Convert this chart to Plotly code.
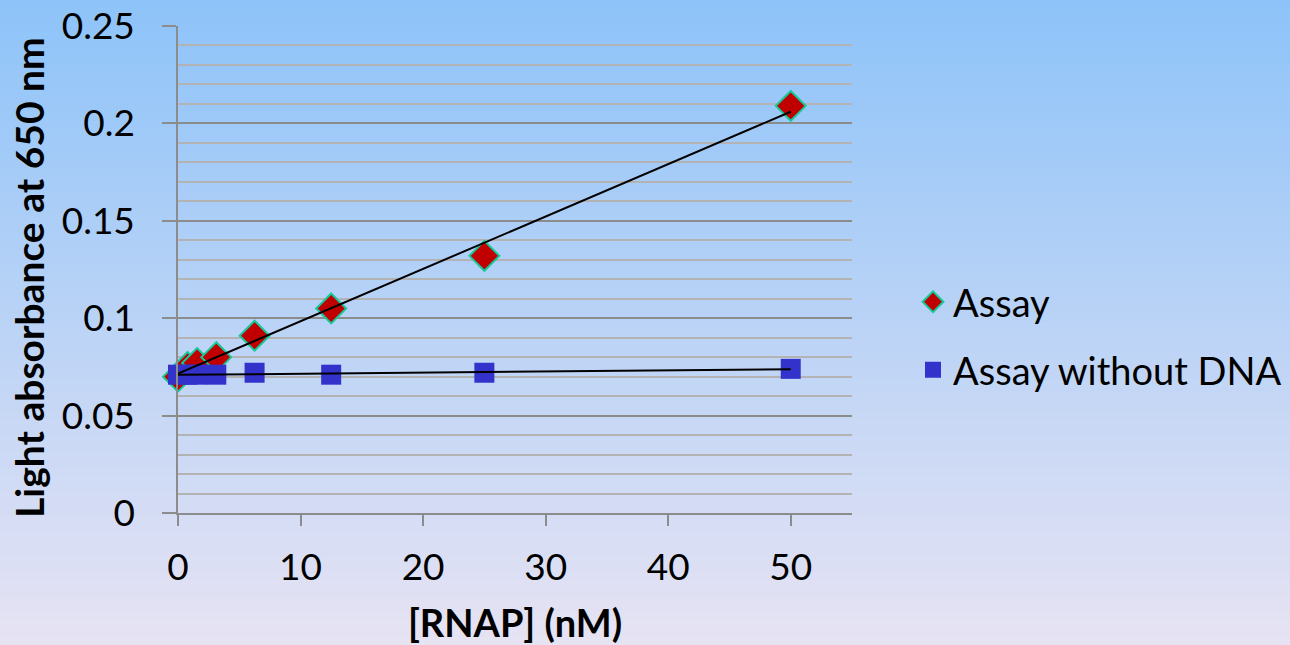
import numpy as np
import plotly.graph_objects as go

# ---- data ----
rnap_nM = [0, 0.78, 1.56, 3.125, 6.25, 12.5, 25, 50]
assay = [0.070, 0.075, 0.077, 0.080, 0.091, 0.105, 0.132, 0.209]
assay_no_dna = [0.071, 0.071, 0.071, 0.071, 0.072, 0.071, 0.072, 0.074]
series_names = ["Assay", "Assay without DNA"]
x_title = "[RNAP] (nM)"
y_title = "Light absorbance at 650 nm"

FONT = "Lato"
W, H = 1290, 645
L, R, T, B = 178, 438, 26, 132
pw, ph = W - L - R, H - T - B

fig = go.Figure()

fig.add_trace(go.Scatter(
    x=rnap_nM, y=assay, mode="markers", name=series_names[0],
    marker=dict(symbol="diamond", size=23, color="#C00000",
                line=dict(color="#14C99A", width=2)),
    cliponaxis=False, legend="legend"))
fig.add_trace(go.Scatter(
    x=rnap_nM, y=assay_no_dna, mode="markers", name=series_names[1],
    marker=dict(symbol="square", size=20, color="#3333CC",
                line=dict(width=0)),
    cliponaxis=False, legend="legend2"))

# linear trendlines
for ys in (assay, assay_no_dna):
    m, c = np.polyfit(rnap_nM, ys, 1)
    xs = [min(rnap_nM), max(rnap_nM)]
    fig.add_trace(go.Scatter(x=xs, y=[m * v + c for v in xs], mode="lines",
                             line=dict(color="black", width=2),
                             showlegend=False, cliponaxis=False, hoverinfo="skip"))

# background gradient (paper-referenced bands)
top = np.array([141, 195, 249])
bot = np.array([231, 227, 243])
n = 80
shapes = []
for i in range(n):
    py0 = H * i / n
    py1 = H * (i + 1) / n
    t = (i + 0.5) / n
    col = top + (bot - top) * t
    shapes.append(dict(type="rect", xref="paper", yref="paper", layer="below",
                       x0=-L / pw - 0.01, x1=(W - L) / pw + 0.01,
                       y0=(H - B - py1) / ph - 0.001, y1=(H - B - py0) / ph + 0.001,
                       line=dict(width=0),
                       fillcolor="rgb(%d,%d,%d)" % tuple(col.round().astype(int))))

LEG_X = (913 - L) / pw
fig.update_layout(
    width=W, height=H,
    margin=dict(l=L, r=R, t=T, b=B, autoexpand=False),
    paper_bgcolor="rgb(186,211,246)",
    plot_bgcolor="rgba(0,0,0,0)",
    shapes=shapes,
    font=dict(family=FONT, color="black", size=37),
    legend=dict(x=LEG_X, y=(H - B - 302) / ph, xanchor="left", yanchor="middle",
                bgcolor="rgba(0,0,0,0)", font=dict(size=38, family=FONT),
                itemsizing="trace"),
    legend2=dict(x=LEG_X, y=(H - B - 370) / ph, xanchor="left", yanchor="middle",
                 bgcolor="rgba(0,0,0,0)", font=dict(size=38, family=FONT),
                 itemsizing="trace"),
    showlegend=True,
    annotations=[dict(text="<b>" + y_title + "</b>", textangle=-90,
                      xref="paper", yref="paper",
                      x=(29 - L) / pw, y=(H - B - 278) / ph,
                      xanchor="center", yanchor="middle", showarrow=False,
                      font=dict(size=39, family=FONT, color="black"))],
)

fig.update_xaxes(
    range=[0, 55], dtick=10, tick0=0, showgrid=False, zeroline=False,
    showline=True, linecolor="#8C8C8C", linewidth=1.5,
    ticks="outside", ticklen=11, tickcolor="#8C8C8C", tickwidth=1.5,
    ticklabelstandoff=10,
    tickfont=dict(size=37, family=FONT),
    title=dict(text="<b>" + x_title + "</b>", font=dict(size=38, family=FONT), standoff=27),
)
fig.update_yaxes(
    range=[0, 0.25], dtick=0.05, tick0=0, showgrid=True, gridcolor="#8C8C8C", gridwidth=1.5,
    zeroline=False, showline=True, linecolor="#8C8C8C", linewidth=1.5,
    ticks="outside", ticklen=14, tickcolor="#8C8C8C", tickwidth=1.5,
    ticklabelstandoff=20,
    minor=dict(dtick=0.01, showgrid=True, gridcolor="#B3B3B3", gridwidth=1.5),
    tickfont=dict(size=37, family=FONT),
)

fig.write_html("out.html", config={"displayModeBar": False},
               post_script="document.body.style.margin='0';document.body.style.overflow='hidden';")
